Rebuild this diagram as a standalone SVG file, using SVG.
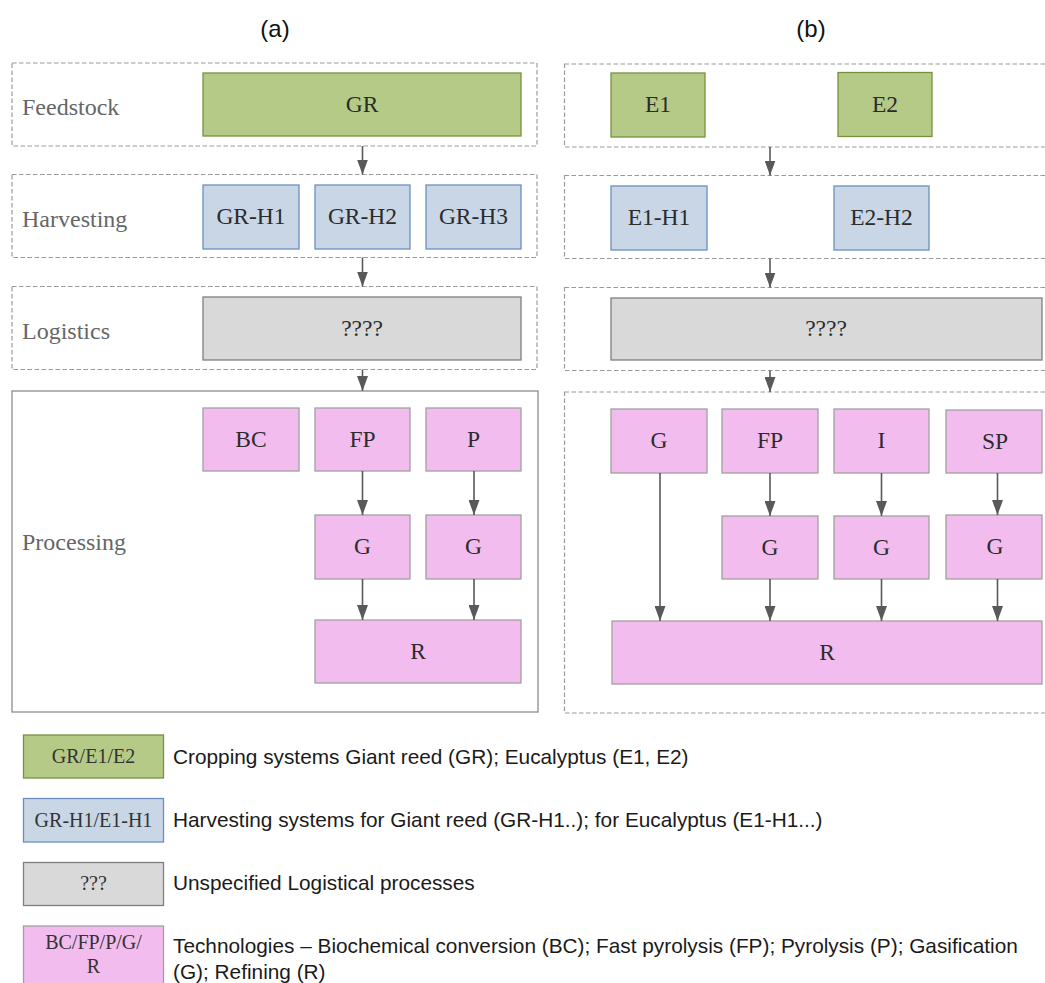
<svg xmlns="http://www.w3.org/2000/svg" width="1045" height="983" viewBox="0 0 1045 983">
<defs>
<style>
.bg{fill:#ffffff}
.grp{fill:none;stroke:#9a9a9a;stroke-width:1.2;stroke-dasharray:4.5 2.5}
.grps{fill:none;stroke:#8c8c8c;stroke-width:1.3}
.side{font-family:"Liberation Serif","Times New Roman",serif;font-size:24px;fill:#666666}
.lbl{font-family:"Liberation Serif","Times New Roman",serif;font-size:23.5px;fill:#2b2b2b;text-anchor:middle}
.llbl{font-family:"Liberation Serif","Times New Roman",serif;font-size:20px;fill:#333333;text-anchor:middle}
.leg{font-family:"Liberation Sans",Arial,sans-serif;font-size:20.8px;fill:#1a1a1a}
.title{font-family:"Liberation Sans",Arial,sans-serif;font-size:24px;fill:#111111;text-anchor:middle}
.green{fill:#b6ca87;stroke:#76923c;stroke-width:1.3}
.blue{fill:#c9d6e5;stroke:#6c8ebf;stroke-width:1.3}
.gray{fill:#d9d9d9;stroke:#7f7f7f;stroke-width:1.3}
.pink{fill:#f2bdee;stroke:#a0a0a0;stroke-width:1.3}
.arr{stroke:#595959;stroke-width:1.6;fill:none;marker-end:url(#ah)}
</style>
<marker id="ah" markerUnits="userSpaceOnUse" markerWidth="15" markerHeight="11" refX="15" refY="5.5" orient="auto">
<path d="M0,0 L15,5.5 L0,11 z" fill="#595959"/>
</marker>
</defs>
<rect class="bg" x="0" y="0" width="1045" height="983"/>

<g id="titles">
<text class="title" x="275" y="37">(a)</text>
<text class="title" x="811" y="37">(b)</text>
</g>

<g id="groups-a">
<rect class="grp" x="12" y="63" width="525" height="83"/>
<rect class="grp" x="12" y="174.5" width="525" height="83"/>
<rect class="grp" x="12" y="286.5" width="525" height="83"/>
<rect class="grps" x="12" y="391" width="526" height="321"/>
<text class="side" x="22" y="115">Feedstock</text>
<text class="side" x="22" y="227">Harvesting</text>
<text class="side" x="22" y="339">Logistics</text>
<text class="side" x="22" y="550">Processing</text>
</g>

<g id="groups-b">
<rect class="grp" x="564.5" y="64" width="500" height="83"/>
<rect class="grp" x="564.5" y="175.5" width="500" height="83"/>
<rect class="grp" x="564.5" y="287.5" width="500" height="83"/>
<rect class="grp" x="564.5" y="392" width="500" height="321"/>
</g>

<g id="a-GR"><rect class="green" x="203" y="73" width="318" height="63"/><text class="lbl" x="362" y="112">GR</text></g>
<g id="a-GR-H1"><rect class="blue" x="203" y="185" width="96" height="64"/><text class="lbl" x="251" y="224">GR-H1</text></g>
<g id="a-GR-H2"><rect class="blue" x="315" y="185" width="95" height="64"/><text class="lbl" x="362.5" y="224">GR-H2</text></g>
<g id="a-GR-H3"><rect class="blue" x="426" y="185" width="95" height="64"/><text class="lbl" x="473.5" y="224">GR-H3</text></g>
<g id="a-logistics"><rect class="gray" x="203" y="297" width="318" height="63"/><text class="lbl" x="362" y="336">????</text></g>
<g id="a-BC"><rect class="pink" x="203" y="408" width="96" height="63"/><text class="lbl" x="251" y="447">BC</text></g>
<g id="a-FP"><rect class="pink" x="315" y="408" width="95" height="63"/><text class="lbl" x="362.5" y="447">FP</text></g>
<g id="a-P"><rect class="pink" x="426" y="408" width="95" height="63"/><text class="lbl" x="473.5" y="447">P</text></g>
<g id="a-G1"><rect class="pink" x="315" y="515" width="95" height="64"/><text class="lbl" x="362.5" y="554">G</text></g>
<g id="a-G2"><rect class="pink" x="426" y="515" width="95" height="64"/><text class="lbl" x="473.5" y="554">G</text></g>
<g id="a-R"><rect class="pink" x="315" y="620" width="206" height="63"/><text class="lbl" x="418" y="659">R</text></g>

<g id="b-E1"><rect class="green" x="611" y="73" width="94" height="64"/><text class="lbl" x="658" y="112">E1</text></g>
<g id="b-E2"><rect class="green" x="838" y="72.5" width="94" height="64"/><text class="lbl" x="885" y="111.5">E2</text></g>
<g id="b-E1-H1"><rect class="blue" x="611" y="186" width="96" height="64"/><text class="lbl" x="659" y="225">E1-H1</text></g>
<g id="b-E2-H2"><rect class="blue" x="834" y="186" width="95" height="64"/><text class="lbl" x="881.5" y="225">E2-H2</text></g>
<g id="b-logistics"><rect class="gray" x="611" y="298" width="431" height="62"/><text class="lbl" x="826" y="336">????</text></g>
<g id="b-G"><rect class="pink" x="611" y="409" width="96" height="64"/><text class="lbl" x="659" y="448">G</text></g>
<g id="b-FP"><rect class="pink" x="722" y="409" width="96" height="64"/><text class="lbl" x="770" y="448">FP</text></g>
<g id="b-I"><rect class="pink" x="834" y="409" width="95" height="64"/><text class="lbl" x="881.5" y="448">I</text></g>
<g id="b-SP"><rect class="pink" x="946" y="410" width="96" height="63"/><text class="lbl" x="995" y="449">SP</text></g>
<g id="b-G1"><rect class="pink" x="722" y="516" width="96" height="63"/><text class="lbl" x="770" y="555">G</text></g>
<g id="b-G2"><rect class="pink" x="834" y="516" width="95" height="63"/><text class="lbl" x="881.5" y="555">G</text></g>
<g id="b-G3"><rect class="pink" x="946" y="515" width="96" height="64"/><text class="lbl" x="995" y="554">G</text></g>
<g id="b-R"><rect class="pink" x="612" y="621" width="430" height="63"/><text class="lbl" x="827" y="660">R</text></g>

<g id="connectors">
<line class="arr" x1="362.5" y1="146" x2="362.5" y2="174.5"/>
<line class="arr" x1="362.5" y1="257.5" x2="362.5" y2="286.5"/>
<line class="arr" x1="362.5" y1="369.5" x2="362.5" y2="391"/>
<line class="arr" x1="362.5" y1="471" x2="362.5" y2="515"/>
<line class="arr" x1="474" y1="471" x2="474" y2="515"/>
<line class="arr" x1="362.5" y1="579" x2="362.5" y2="620"/>
<line class="arr" x1="474" y1="579" x2="474" y2="620"/>
<line class="arr" x1="770" y1="147" x2="770" y2="175.5"/>
<line class="arr" x1="770" y1="258.5" x2="770" y2="287.5"/>
<line class="arr" x1="770" y1="370.5" x2="770" y2="392"/>
<line class="arr" x1="660" y1="473" x2="660" y2="621"/>
<line class="arr" x1="770" y1="473" x2="770" y2="516"/>
<line class="arr" x1="881.5" y1="473" x2="881.5" y2="516"/>
<line class="arr" x1="997.5" y1="473" x2="997.5" y2="515"/>
<line class="arr" x1="770" y1="579" x2="770" y2="621"/>
<line class="arr" x1="881.5" y1="579" x2="881.5" y2="621"/>
<line class="arr" x1="997.5" y1="579" x2="997.5" y2="621"/>
</g>

<g id="legend-green"><rect class="green" x="23.5" y="735" width="140" height="43"/><text class="llbl" x="93.5" y="763">GR/E1/E2</text><text class="leg" x="173" y="764">Cropping systems Giant reed (GR); Eucalyptus (E1, E2)</text></g>
<g id="legend-blue"><rect class="blue" x="23.5" y="798.5" width="140" height="43.5"/><text class="llbl" x="93.5" y="826.5">GR-H1/E1-H1</text><text class="leg" x="173" y="827">Harvesting systems for Giant reed (GR-H1..); for Eucalyptus (E1-H1...)</text></g>
<g id="legend-gray"><rect class="gray" x="23.5" y="862.5" width="140" height="43"/><text class="llbl" x="93.5" y="890">???</text><text class="leg" x="173" y="890">Unspecified Logistical processes</text></g>
<g id="legend-pink"><rect class="pink" x="23.5" y="926" width="140" height="70"/><text class="llbl" x="93.5" y="949">BC/FP/P/G/</text><text class="llbl" x="93.5" y="973">R</text><text class="leg" x="173" y="953">Technologies – Biochemical conversion (BC); Fast pyrolysis (FP); Pyrolysis (P); Gasification</text><text class="leg" x="173" y="979">(G); Refining (R)</text></g>
</svg>
